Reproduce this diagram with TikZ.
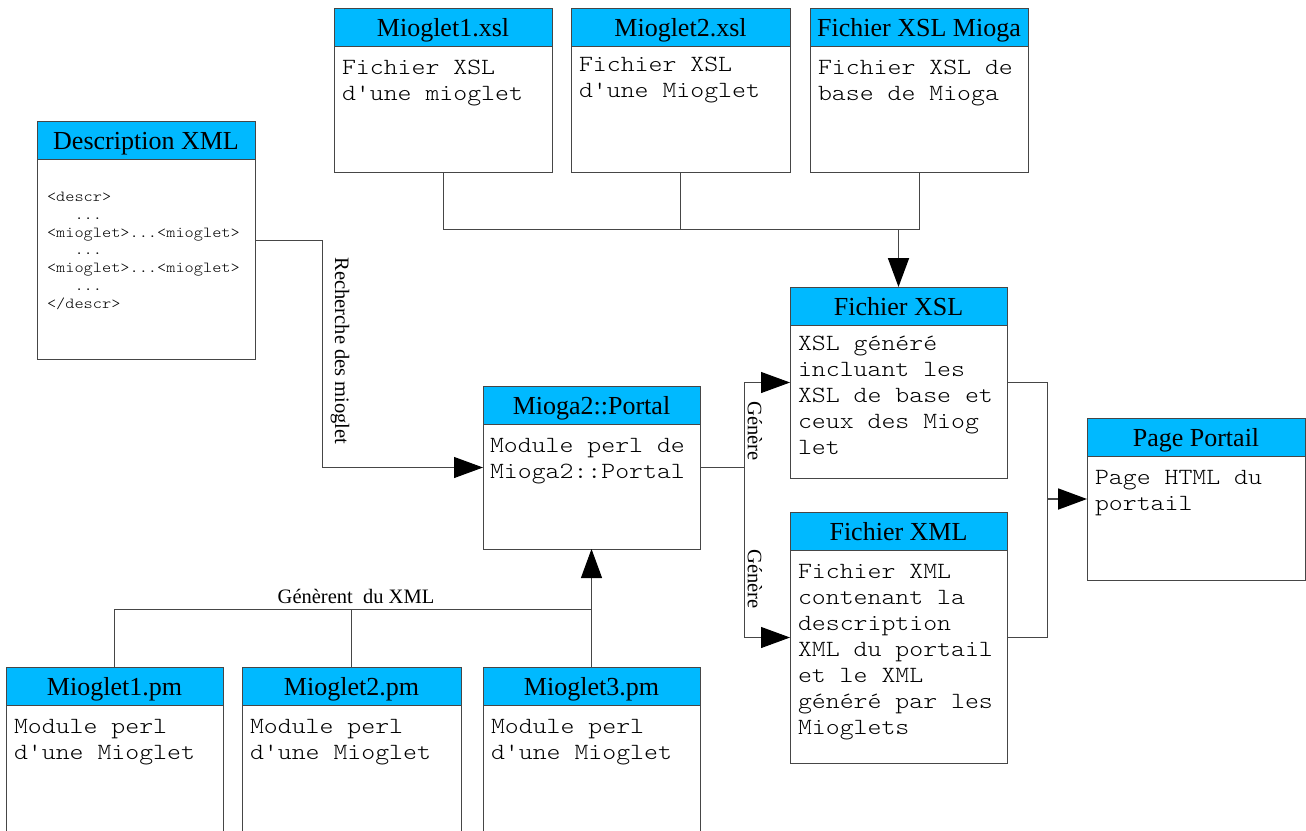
\documentclass[tikz,border=0pt]{standalone}
\usepackage{fontspec}
\setmainfont{Liberation Serif}
\setmonofont{lmmonolt10-regular}[Extension=.otf, FakeStretch=1.143]
\usetikzlibrary{arrows.meta,calc}
\definecolor{hdrcol}{RGB}{0,185,255}
\definecolor{linecol}{RGB}{70,70,70}
\tikzset{
 frame/.style={draw=linecol, line width=1pt, fill=white, inner sep=0pt, outer sep=0pt},
 hdr/.style={draw=linecol, line width=1pt, fill=hdrcol, inner sep=0pt, outer sep=0pt,
   minimum height=38.5pt, text height=24pt, text depth=6pt, font=\fontsize{26}{28}\selectfont},
 bodytxt/.style={inner sep=0pt, outer sep=0pt},
 monobig/.style={font=\fontsize{23.2}{26}\selectfont\ttfamily},
 monosmall/.style={font=\fontsize{15.3}{17.8}\selectfont\ttfamily},
 conn/.style={draw=linecol, line width=1pt},
 arr/.style={conn, -{Triangle[length=29pt,width=21pt,color=black]}},
 lbl/.style={font=\fontsize{20.5}{22}\selectfont, inner sep=0pt},
}
% name, x1, y1, x2, y2, title, text offset, text style, text
\newcommand\mybox[9]{%
 \pgfmathsetmacro\bw{#4-#2}\pgfmathsetmacro\bh{#5-#3}%
 \node[frame, minimum width=\bw pt, minimum height=\bh pt, anchor=north west] (#1) at (#2,#3) {};
 \node[hdr, minimum width=\bw pt, anchor=north west] (#1h) at (#1.north west) {#6};
 \node[bodytxt, #8, anchor=base west] (#1t) at ($(#1h.south west)+#7$)
   {\parbox[t]{\bw pt}{\raggedright #9}};
}
\begin{document}
\begin{tikzpicture}[x=1pt,y=-1pt]
\useasboundingbox (0,0) rectangle (1306,830);
\clip (0,0) rectangle (1306,830);
\fill[white] (0,0) rectangle (1306,830);

\mybox{xslA}{334}{8}{552}{172}{Mioglet1.xsl}{(8,28)}{monobig}{Fichier XSL\\d'une mioglet}
\mybox{xslB}{571}{8}{790}{172}{Mioglet2.xsl}{(8,25)}{monobig}{Fichier XSL\\d'une Mioglet}
\mybox{xslC}{810}{8}{1028}{172}{Fichier XSL Mioga}{(8,28)}{monobig}{Fichier XSL de\\base de Mioga}
\mybox{descr}{37}{121}{255}{359}{Description XML}{(10,42)}{monosmall}{<descr>\\\phantom{xxx}...\\<mioglet>...<mioglet>\\\phantom{xxx}...\\<mioglet>...<mioglet>\\\phantom{xxx}...\\</descr>}
\mybox{fxsl}{790}{287}{1007}{478}{Fichier XSL}{(8,25)}{monobig}{XSL généré\\incluant les\\XSL de base et\\ceux des Miog\\let}
\mybox{portal}{483}{386}{700}{549}{Mioga2::Portal}{(7,28)}{monobig}{Module perl de\\Mioga2::Portal}
\mybox{page}{1087}{418}{1305}{580}{Page Portail}{(8,28)}{monobig}{Page HTML du\\portail}
\mybox{fxml}{790}{512}{1007}{763}{Fichier XML}{(8,28)}{monobig}{Fichier XML\\contenant la\\description\\XML du portail\\et le XML\\généré par les\\Mioglets}
\mybox{pmA}{6}{667}{223}{860}{Mioglet1.pm}{(8,28)}{monobig}{Module perl\\d'une Mioglet}
\mybox{pmB}{242}{667}{461}{860}{Mioglet2.pm}{(8,28)}{monobig}{Module perl\\d'une Mioglet}
\mybox{pmC}{483}{667}{700}{860}{Mioglet3.pm}{(8,28)}{monobig}{Module perl\\d'une Mioglet}

% top bus
\coordinate (topbus) at (0,229);
\draw[conn] (xslA.south) -- (xslA.south |- topbus) -| (xslC.south);
\draw[conn] (xslB.south) -- (xslB.south |- topbus);
\draw[arr, line width=1.8pt] (fxsl.north |- topbus) -- (fxsl.north);

% description -> portal
\coordinate (rech) at (322,0);
\draw[arr] (descr.east) -- (descr.east -| rech) |- (portal.west);
\node[lbl, rotate=-90] (rechlbl) at (340,351) {Recherche des mioglet};

% portal -> xsl / xml
\coordinate (gen) at (744,0);
\draw[conn] (portal.east) -- (portal.east -| gen);
\draw[arr] (fxsl.west -| gen) -- (fxsl.west);
\draw[arr] (fxml.west -| gen) -- (fxml.west);
\draw[conn] (fxsl.west -| gen) -- (fxml.west -| gen);
\node[lbl, rotate=-90] (gen1) at (755,431) {Génère};
\node[lbl, rotate=-90] (gen2) at (755,579) {Génère};

% xsl/xml -> page
\coordinate (pg) at (1047,0);
\draw[conn] (fxsl.east) -- (fxsl.east -| pg) -- (fxml.east -| pg) -- (fxml.east);
\draw[arr, line width=1.8pt] (page.west -| pg) -- (page.west);

% mioglets -> portal
\coordinate (botbus) at (0,609);
\draw[conn] (pmA.north) -- (pmA.north |- botbus) -- (pmC.north |- botbus);
\draw[conn] (pmB.north) -- (pmB.north |- botbus);
\draw[arr] (pmC.north) -- (portal.south);
\node[lbl, anchor=base] (genxml) at (356,603) {Génèrent\ \ du XML};
\end{tikzpicture}
\end{document}
